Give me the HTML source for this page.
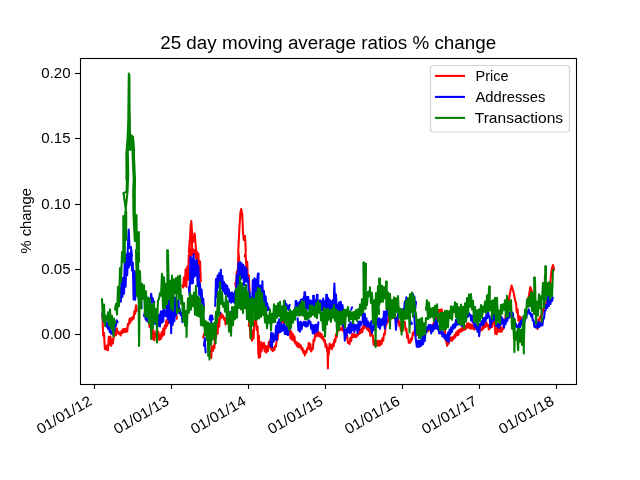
<!DOCTYPE html>
<html><head><meta charset="utf-8">
<style>
html,body{margin:0;padding:0;background:#fff;width:640px;height:480px;overflow:hidden}
svg{display:block;will-change:transform}
text{font-family:"Liberation Sans",sans-serif;fill:#000}
</style></head>
<body>
<svg width="640" height="480" viewBox="0 0 640 480">
<rect x="0" y="0" width="640" height="480" fill="#fff"/>
<!-- DATA -->
<g id="plot" fill="none" stroke-width="2.08" stroke-linejoin="round" stroke-linecap="round">
<path stroke="#ff0000" d="M102.4 314.7 103.2 335.7 104.0 333.0 104.8 348.9 105.6 346.3 106.4 349.8 107.2 345.3 108.0 350.2 108.8 336.9 109.6 344.8 110.4 336.6 111.2 345.8 112.0 339.3 112.8 343.5 113.6 337.4 114.4 335.7 115.2 330.3 116.0 335.3 116.8 328.4 117.6 333.3 118.4 331.6 119.2 334.2 120.0 332.9 120.8 335.4 121.6 330.6 122.4 333.0 123.2 329.0 124.0 332.1 124.8 329.1 125.6 332.0 126.4 328.3 127.2 331.6 128.0 323.7 128.8 324.6 129.6 318.8 130.4 322.5 131.2 317.8 132.0 320.0 132.8 317.0 133.6 318.7 134.4 311.0 135.2 314.0 136.0 305.3 136.8 310.6M144.8 314.8 145.6 313.0 146.4 319.8 147.2 316.8 148.0 321.6 148.8 319.9 149.6 327.2 150.4 321.8 151.2 333.4 152.0 326.8 152.8 338.9 153.6 330.6 154.4 340.3 155.2 333.1 156.0 336.1 156.8 330.4 157.6 337.6 158.4 331.9 159.2 339.9 160.0 335.0 160.8 339.1 161.6 332.1 162.4 336.5 163.2 328.6 164.0 334.6 164.8 325.5 165.6 328.6 166.4 320.1 167.2 325.9 168.0 321.6 168.8 322.8 169.6 317.1 170.4 320.8 171.2 315.0 172.0 319.4 172.8 311.1 173.6 316.1 174.4 310.3 175.2 312.6 176.0 309.9 176.8 318.6M182.4 285.5 183.2 287.5 184.0 277.3 184.8 285.6 185.6 269.2 186.4 286.6 187.2 266.7 188.0 279.8 188.8 254.6 189.6 261.5 190.4 249.4 191.2 256.7 192.0 250.0 192.8 255.2 193.6 249.5 194.4 254.0 195.2 250.3 196.0 258.4 196.8 251.3 197.6 266.2 198.4 253.5 199.2 277.2 200.0 261.4 200.8 281.5M201.6 301.3 202.4 298.6M203.2 337.6 204.0 334.1M210.4 351.1 211.2 358.0 212.0 346.2 212.8 351.0 213.6 345.5 214.4 348.2 215.2 333.0 216.0 337.7 216.8 324.9 217.6 333.7 218.4 319.4 219.2 326.7 220.0 314.3 220.8 318.6 221.6 313.8 222.4 317.2 223.2 315.6 224.0 319.5 224.8 318.0 225.6 324.5M235.2 283.0 236.0 287.2 236.8 271.5 237.6 277.2 238.4 251.9 239.2 260.1M244.8 256.5 245.6 253.1 246.4 267.9 247.2 261.8 248.0 281.7 248.8 275.4 249.6 293.4M248.8 325.9 249.6 318.6 250.4 337.5 251.2 335.3 252.0 340.6 252.8 330.2 253.6 338.6 254.4 320.5 255.2 324.6 256.0 320.9 256.8 330.2 257.6 326.6 258.4 354.7 259.2 341.8 260.0 357.1 260.8 342.0 261.6 351.4 262.4 343.3 263.2 348.1 264.0 342.7 264.8 351.5 265.6 345.9 266.4 352.6 267.2 346.5 268.0 350.9 268.8 341.9 269.6 347.0 270.4 339.5 271.2 349.6 272.0 348.4 272.8 351.2 273.6 347.9 274.4 350.0 275.2 345.7 276.0 346.3 276.8 338.8 277.6 339.6 278.4 330.6 279.2 331.6 280.0 322.6 280.8 324.3 281.6 318.7 282.4 322.7 283.2 317.4 284.0 322.1 284.8 317.7 285.6 322.8 286.4 318.5 287.2 324.6 288.0 320.5 288.8 327.9 289.6 327.2 290.4 338.5 291.2 331.2 292.0 339.5 292.8 333.9 293.6 340.9 294.4 336.3 295.2 343.4 296.0 341.6 296.8 345.9 297.6 342.8 298.4 347.2 299.2 343.9 300.0 347.5 300.8 345.4 301.6 349.5 302.4 348.0 303.2 352.6 304.0 350.7 304.8 355.4 305.6 351.4 306.4 352.6 307.2 348.2 308.0 348.6 308.8 342.9 309.6 349.4 310.4 344.1 311.2 351.5 312.0 349.1 312.8 349.3 313.6 339.9 314.4 341.0 315.2 334.2 316.0 336.4 316.8 333.0 317.6 335.6 318.4 331.6 319.2 336.4 320.0 333.0 320.8 337.2 321.6 334.2 322.4 339.0 323.2 336.8 324.0 341.4 324.8 340.3 325.6 347.0 326.4 344.4 327.2 351.3 328.0 347.9 328.8 354.3 329.6 343.6 330.4 348.5 331.2 345.1 332.0 349.2 332.8 343.7 333.6 346.5 334.4 339.7 335.2 342.1 336.0 334.3 336.8 337.1 337.6 329.3 338.4 330.9 339.2 327.7 340.0 329.7 340.8 328.5 341.6 329.9 342.4 326.5 343.2 331.2 344.0 327.8 344.8 333.5 345.6 331.9 346.4 338.3 347.2 335.6 348.0 342.9 348.8 341.6 349.6 344.1 350.4 337.7 351.2 341.1 352.0 334.2 352.8 337.1 353.6 333.5 354.4 337.0 355.2 334.7 356.0 337.2 356.8 334.2 357.6 335.7 358.4 331.8 359.2 334.1 360.0 330.0 360.8 332.9 361.6 328.3 362.4 332.0 363.2 325.8 364.0 328.5 364.8 324.3 365.6 327.5 366.4 324.2 367.2 329.6 368.0 326.3 368.8 331.1 369.6 328.8 370.4 335.9 371.2 330.4 372.0 335.4 372.8 335.6 373.6 344.7 374.4 341.1 375.2 345.5 376.0 341.5 376.8 345.6 377.6 340.7 378.4 345.6 379.2 340.9 380.0 345.5 380.8 340.8 381.6 344.1 382.4 338.2 383.2 340.8 384.0 333.7 384.8 334.5 385.6 326.5 386.4 324.6 387.2 320.1 388.0 321.9 388.8 317.3 389.6 319.7 390.4 315.3 391.2 317.8 392.0 314.8 392.8 318.1 393.6 314.3 394.4 318.2 395.2 315.7 396.0 319.0 396.8 317.8 397.6 322.0 398.4 319.2 399.2 325.8 400.0 322.3 400.8 330.4 401.6 327.9 402.4 331.5 403.2 323.5 404.0 324.7 404.8 321.7 405.6 330.4 406.4 328.7 407.2 337.9 408.0 335.1 408.8 342.8 409.6 341.0 410.4 342.6 411.2 338.3 412.0 339.7 412.8 332.9 413.6 334.8 414.4 331.0 415.2 332.9 416.0 329.4 416.8 335.3 417.6 329.9 418.4 335.4 419.2 330.1 420.0 334.3 420.8 329.0 421.6 333.8 422.4 329.1 423.2 333.4 424.0 329.9 424.8 332.8 425.6 329.8 426.4 331.5 427.2 329.5 428.0 331.0 428.8 328.9 429.6 330.5 430.4 328.4 431.2 330.0 432.0 325.3 432.8 328.0 433.6 322.8 434.4 324.7 435.2 318.4 436.0 320.1 436.8 314.0 437.6 313.8 438.4 309.9 439.2 311.9 440.0 309.8 440.8 312.2 441.6 309.3 442.4 313.4 443.2 315.4 444.0 327.8 444.8 326.3 445.6 340.3 446.4 341.5 447.2 345.8 448.0 339.1 448.8 343.8 449.6 337.2 450.4 340.6 451.2 337.5 452.0 341.0 452.8 337.1 453.6 339.0 454.4 335.0 455.2 337.4 456.0 332.9 456.8 335.5 457.6 330.7 458.4 334.9 459.2 329.7 460.0 331.9 460.8 328.8 461.6 331.2 462.4 327.8 463.2 330.3 464.0 327.8 464.8 329.7 465.6 326.0 466.4 328.5 467.2 323.3 468.0 327.2 468.8 323.4 469.6 328.3 470.4 324.3 471.2 328.8 472.0 324.6 472.8 328.5 473.6 325.5 474.4 329.6 475.2 325.7 476.0 328.9 476.8 327.5 477.6 330.2 478.4 328.0 479.2 330.6 480.0 328.4 480.8 330.7 481.6 328.1 482.4 329.6 483.2 325.5 484.0 328.2 484.8 323.5 485.6 326.9 486.4 322.2 487.2 325.8 488.0 324.8 488.8 329.5 489.6 325.5 490.4 328.1 491.2 325.0 492.0 327.0 492.8 320.9 493.6 323.4 494.4 317.5 495.2 333.6 496.0 325.9 496.8 334.2 497.6 327.0 498.4 331.5 499.2 327.5 500.0 331.7 500.8 327.2 501.6 331.7 502.4 328.4 503.2 329.2 504.0 321.2 504.8 324.1 505.6 315.1 506.4 317.5 507.2 309.7 508.0 310.0 508.8 303.0 509.6 302.7M516.0 302.4 516.8 312.2 517.6 309.3 518.4 320.6 519.2 316.3 520.0 322.5 520.8 317.0 521.6 322.8 522.4 319.4M537.6 328.9 538.4 319.3 539.2 324.0 540.0 316.9 540.8 317.5 541.6 313.3 542.4 314.2 543.2 308.6 544.0 310.6 544.8 305.8 545.6 306.4 546.4 301.4 547.2 302.1M188.8 252.0 190.0 238.0 190.8 224.0 191.8 230.0 192.2 252.0M238.2 252.0 239.5 226.0 240.5 212.0 241.2 209.0 242.2 214.0 243.0 232.0 243.8 240.0 245.0 236.0 245.8 252.0M189.5 252.0 190.3 232.0 191.3 221.0 192.3 236.0 193.0 242.0 194.7 233.5 196.2 252.0M508.5 302.0 510.0 293.0 511.6 285.5 513.5 292.0 515.5 302.0M527.5 302.0 529.0 295.0 530.4 287.0 532.0 292.0 533.0 302.0M549.5 292.0 551.0 275.0 552.0 268.0 553.0 265.0 554.0 270.0M327.5 348.5 327.9 368.4 328.3 348.5M258.4 336.0 258.8 357.8 259.1 336.0"/>
<path stroke="#0000ff" d="M102.4 313.0 103.2 320.7 104.0 318.8 104.8 323.1 105.6 320.5 106.4 326.5 107.2 322.4 108.0 328.8 108.8 325.1 109.6 331.9 110.4 328.9 111.2 333.7 112.0 331.9 112.8 334.8 113.6 328.7 114.4 331.0 115.2 324.5 116.0 325.7 116.8 320.4 117.6 322.1M120.0 288.2 120.8 301.8 121.6 278.1 122.4 296.9 123.2 277.8 124.0 293.8 124.8 258.3 125.6 286.7 126.4 254.6 127.2 275.2 128.0 254.7 128.8 267.5 129.6 253.3 130.4 265.0 131.2 249.5 132.0 270.5 132.8 262.8 133.6 299.6 134.4 271.1 135.2 299.7 136.0 272.4 136.8 292.7 137.6 282.8 138.4 298.0 139.2 285.8 140.0 306.1 140.8 288.8 141.6 308.1M144.0 316.0 144.8 312.6 145.6 319.5 146.4 315.6 147.2 321.1 148.0 317.7 148.8 322.3 149.6 316.7 150.4 323.2 151.2 317.9 152.0 323.0 152.8 317.4 153.6 323.3 154.4 316.7 155.2 323.6 156.0 316.6 156.8 324.8 157.6 316.6 158.4 325.6 159.2 314.9 160.0 326.5 160.8 311.6 161.6 322.6 162.4 310.7 163.2 321.8 164.0 309.5 164.8 315.7 165.6 310.8 166.4 316.6 167.2 297.2 168.0 319.5 168.8 295.8 169.6 322.7 170.4 294.9 171.2 333.2 172.0 292.9 172.8 324.7 173.6 296.6 174.4 321.3 175.2 297.9 176.0 315.5 176.8 300.4 177.6 309.6 178.4 300.5 179.2 313.3 180.0 309.3 180.8 315.1 181.6 313.1 182.4 322.2M150.4 300.5 151.2 293.7 152.0 302.6 152.8 298.3 153.6 304.1 154.4 301.7M188.8 287.3 189.6 295.2 190.4 257.1 191.2 283.5 192.0 258.5 192.8 283.2 193.6 254.2 194.4 276.7 195.2 261.1 196.0 275.3 196.8 260.1 197.6 285.9 198.4 265.7 199.2 294.7 200.0 283.5 200.8 300.3 201.6 289.5 202.4 304.2 203.2 298.6 204.0 308.9M202.9 316.2 203.5 316.2M204.0 345.7 204.8 338.3 205.6 352.4M209.6 319.7 210.4 315.5 211.2 322.5 212.0 315.5 212.8 319.1M215.2 306.0 216.0 279.1 216.8 296.6 217.6 275.5 218.4 287.5 219.2 273.2 220.0 282.8 220.8 269.8 221.6 288.6 222.4 276.0 223.2 290.9 224.0 282.0 224.8 293.7 225.6 284.4 226.4 294.1 227.2 285.8 228.0 296.5 228.8 289.3 229.6 301.6 230.4 292.9 231.2 302.6 232.0 292.6 232.8 301.5 233.6 293.6 234.4 302.8 235.2 290.7 236.0 298.3 236.8 274.8 237.6 287.2 238.4 263.0 239.2 283.1 240.0 262.1 240.8 279.1 241.6 263.3 242.4 277.7 243.2 264.9 244.0 285.5 244.8 266.9 245.6 281.8 246.4 268.6 247.2 281.7 248.0 277.5 248.8 295.2 249.6 292.5 250.4 303.6 251.2 297.6 252.0 310.7 252.8 280.2 253.6 309.2 254.4 278.2 255.2 301.3 256.0 279.5 256.8 302.5 257.6 275.9 258.4 302.1 259.2 285.0 260.0 309.1 260.8 285.7 261.6 303.4 262.4 281.2 263.2 309.4 264.0 291.0 264.8 309.1 265.6 296.2 266.4 309.4 267.2 303.3 268.0 310.1 268.8 307.8M219.7 312.9 220.3 312.9M230.1 312.0 230.7 312.0M270.4 345.8 271.2 332.7 272.0 347.1 272.8 333.3 273.6 341.6 274.4 335.3 275.2 339.8 276.0 326.0 276.8 339.7 277.6 322.2 278.4 332.6 279.2 319.2 280.0 332.3 280.8 322.8 281.6 331.1 282.4 325.3 283.2 330.1 284.0 323.8 284.8 333.9 285.6 325.7 286.4 334.1 287.2 328.1 288.0 335.2 288.8 329.4 289.6 329.1 290.4 325.9M284.8 300.7 285.6 308.9 286.4 304.0 287.2 308.8 288.0 306.1 288.8 310.1 289.6 304.9M295.2 308.9 296.0 301.2 296.8 310.0 297.6 303.2 298.4 309.1 299.2 302.4 300.0 308.0 300.8 299.7 301.6 305.9 302.4 299.0 303.2 308.7 304.0 296.4 304.8 308.7 305.6 296.0 306.4 310.4 307.2 298.1 308.0 308.4 308.8 300.4 309.6 310.4 310.4 300.4 311.2 310.3 312.0 301.1 312.8 310.2 313.6 300.6 314.4 306.4 315.2 300.2 316.0 308.5 316.8 296.0 317.6 310.5 318.4 300.7 319.2 310.6 320.0 300.4 320.8 310.1 321.6 301.4 322.4 310.5 323.2 298.5 324.0 309.4 324.8 301.4 325.6 310.0 326.4 295.8 327.2 309.1 328.0 297.8 328.8 309.9 329.6 299.8 330.4 310.7 331.2 301.3 332.0 309.8 332.8 300.4 333.6 307.6 334.4 283.6 335.2 310.7 336.0 294.6 336.8 313.0 337.6 304.9 338.4 313.4 339.2 302.2 340.0 315.2 340.8 301.8 341.6 315.1 342.4 305.1 343.2 310.2M297.6 318.4 298.4 330.4 299.2 322.4 300.0 331.6 300.8 321.7 301.6 329.3 302.4 323.0 303.2 325.1 304.0 321.7 304.8 325.8 305.6 321.7 306.4 326.8 307.2 322.8 308.0 325.8 308.8 320.2 309.6 322.2 310.4 321.8 311.2 329.0 312.0 324.8 312.8 333.5 313.6 325.5 314.4 333.1 315.2 324.8 316.0 332.0 316.8 324.8 317.6 330.6 318.4 322.2M342.4 305.1 343.2 326.2 344.0 324.8 344.8 340.7 345.6 330.0 346.4 336.4 347.2 328.2 348.0 332.2 348.8 324.8 349.6 333.1 350.4 322.0 351.2 332.4 352.0 323.8 352.8 329.9 353.6 323.8 354.4 332.0 355.2 325.1 356.0 329.3 356.8 325.1 357.6 333.0 358.4 321.9 359.2 329.8 360.0 321.6 360.8 325.4 361.6 322.0 362.4 322.5 363.2 312.1 364.0 324.6 364.8 313.7 365.6 325.0 366.4 318.2 367.2 326.6 368.0 321.5 368.8 326.5 369.6 323.4 370.4 328.6 371.2 321.3 372.0 332.9 372.8 326.3 373.6 330.1 374.4 323.0 375.2 324.8 376.0 321.6 376.8 323.9 377.6 319.3 378.4 327.1 379.2 318.4 380.0 328.8 380.8 319.5 381.6 325.5 382.4 318.7 383.2 324.4 384.0 311.5 384.8 328.4 385.6 311.6 386.4 322.9 387.2 309.5M351.2 309.7 352.0 307.2M394.4 314.6 395.2 317.3 396.0 329.8 396.8 318.8 397.6 319.6 398.4 311.1 399.2 314.7 400.0 310.3 400.8 313.7 401.6 309.6 402.4 312.9 403.2 309.4 404.0 312.3 404.8 301.6 405.6 307.9 406.4 297.4 407.2 314.6 408.0 303.3 408.8 318.4 409.6 300.6 410.4 309.2 411.2 299.8 412.0 310.4 412.8 293.9 413.6 316.0 414.4 296.6 415.2 309.2 416.0 302.1M408.8 318.4 409.6 315.8 410.4 324.4 411.2 322.2 412.0 323.7M413.6 316.0 414.4 316.1 415.2 333.5 416.0 340.5 416.8 346.6 417.6 340.7 418.4 347.0 419.2 341.0 420.0 346.5 420.8 340.2 421.6 345.5 422.4 335.9 423.2 344.0 424.0 335.2 424.8 341.0 425.6 330.1 426.4 332.6 427.2 327.1 428.0 328.7 428.8 325.0 429.6 329.1 430.4 324.7 431.2 333.4 432.0 326.0 432.8 331.1 433.6 324.9 434.4 329.1 435.2 318.8 436.0 328.1 436.8 321.1 437.6 329.2 438.4 326.3 439.2 333.5 440.0 330.6 440.8 333.4 441.6 330.8 442.4 336.3 443.2 332.4 444.0 337.7 444.8 334.9 445.6 339.0 446.4 335.1 447.2 341.0 448.0 332.6 448.8 341.6 449.6 329.6 450.4 334.1 451.2 327.4 452.0 332.0 452.8 325.0 453.6 328.6 454.4 324.1 455.2 327.5 456.0 319.7 456.8 325.2 457.6 318.6 458.4 324.2 459.2 318.4 460.0 323.6 460.8 317.6 461.6 326.0 462.4 319.1 463.2 326.0 464.0 317.9 464.8 322.1 465.6 314.9 466.4 318.0 467.2 314.1 468.0 316.4 468.8 312.9 469.6 315.1 470.4 314.9 471.2 320.6 472.0 315.7 472.8 322.3 473.6 318.2 474.4 326.4 475.2 322.8 476.0 328.4 476.8 325.3 477.6 331.8 478.4 325.7 479.2 336.2 480.0 323.7 480.8 325.8 481.6 321.4 482.4 325.3 483.2 318.1 484.0 324.0 484.8 317.7 485.6 321.2 486.4 314.5 487.2 318.3 488.0 311.9 488.8 316.9 489.6 316.2 490.4 327.2 491.2 320.3 492.0 322.4 492.8 316.3 493.6 320.5 494.4 309.9 495.2 317.4 496.0 309.9M496.0 325.8 496.8 323.8 497.6 326.6 498.4 323.7 499.2 328.0 500.0 322.4 500.8 324.8 501.6 317.0 502.4 322.9 503.2 319.2 504.0 327.6 504.8 320.3 505.6 324.2 506.4 317.8 507.2 321.1 508.0 314.7 508.8 318.1 509.6 313.0 510.4 316.6 511.2 311.1 512.0 314.8 512.8 313.1 513.6 322.4 514.4 318.9 515.2 325.2 516.0 323.8 516.8 327.3 517.6 325.8 518.4 330.7 519.2 323.4 520.0 327.3 520.8 320.9 521.6 324.4 522.4 319.4 523.2 322.3 524.0 316.3 524.8 320.9 525.6 316.4 526.4 318.0 527.2 311.3 528.0 312.5 528.8 309.4 529.6 314.0 530.4 313.0 531.2 316.6 532.0 314.2 532.8 320.5 533.6 320.3 534.4 327.0 535.2 325.8 536.0 327.7 536.8 323.3 537.6 327.4 538.4 321.9 539.2 327.0 540.0 322.2 540.8 325.7 541.6 323.3 542.4 325.3 543.2 319.3 544.0 318.4 544.8 310.9 545.6 310.4 546.4 304.6 547.2 308.0 548.0 292.9 548.8 306.0 549.6 299.6 550.4 304.0 551.2 298.6 552.0 301.0 552.8 297.4M127.5 256.0 128.7 229.5 129.5 248.0 131.0 247.0 132.0 256.0M304.4 292.2 304.8 307.8 305.1 292.2M313.1 295.8 313.5 307.8 313.9 295.8M316.9 294.8 317.2 307.8 317.6 294.8M326.2 294.8 326.6 307.8 327.0 294.8M307.5 297.0 307.9 307.8 308.3 297.0M295.6 301.0 296.0 307.8 296.4 301.0M257.9 273.5 258.2 286.5 258.6 273.5"/>
<path stroke="#008000" d="M102.0 299.0 103.0 320.6 104.0 304.6 105.0 325.7 106.0 316.1 107.0 319.9 108.0 312.4 109.0 325.5 110.0 309.3 111.0 328.1 112.0 315.9 113.0 331.4 114.0 318.5 115.0 323.3M115.0 309.5 116.0 303.9 117.0 314.4 118.0 286.7 119.0 306.3 120.0 268.0 121.0 281.9 122.0 252.1M136.0 250.0 137.0 295.9 138.0 252.3 139.0 325.5 140.0 271.1 141.0 308.5 142.0 283.7 143.0 298.7 144.0 285.4 145.0 315.9 146.0 291.3 147.0 317.3 148.0 297.6 149.0 323.1 150.0 298.8 151.0 327.8 152.0 304.6 153.0 328.3 154.0 302.8 155.0 322.0 156.0 309.1 157.0 324.8 158.0 300.8 159.0 298.7 160.0 293.1 161.0 295.8 162.0 273.9 163.0 308.3 164.0 277.2 165.0 308.2 166.0 283.9 167.0 303.9 168.0 253.9 169.0 299.5 170.0 280.7 171.0 308.8 172.0 275.6 173.0 310.6 174.0 279.4 175.0 293.3 176.0 278.0 177.0 292.6 178.0 276.4 179.0 299.0 180.0 275.5 181.0 303.6 182.0 295.7 183.0 321.1 184.0 303.1 185.0 325.7 186.0 313.5 187.0 325.4 188.0 298.3 189.0 312.8 190.0 292.7 191.0 309.8 192.0 295.5 193.0 305.9 194.0 292.5 195.0 314.8 196.0 286.1 197.0 315.7 198.0 296.5 199.0 316.4 200.0 298.4 201.0 325.1 202.0 304.7 203.0 325.8 204.0 306.9M176.0 278.0 177.0 313.1 178.0 309.5 179.0 311.2 180.0 309.7M203.0 325.8 204.0 318.4 205.0 335.7 206.0 321.2 207.0 340.1 208.0 322.6 209.0 339.2 210.0 327.1 211.0 344.5 212.0 323.5 213.0 339.4 214.0 323.3 215.0 331.2 216.0 311.8 217.0 322.5 218.0 292.0 219.0 315.6 220.0 282.3 221.0 303.8 222.0 292.0 223.0 306.6 224.0 302.9 225.0 311.7 226.0 295.9 227.0 323.5 228.0 301.0 229.0 331.6 230.0 312.7 231.0 335.7 232.0 307.1 233.0 325.1 234.0 307.0 235.0 319.2 236.0 289.1 237.0 317.6 238.0 285.7 239.0 308.0 240.0 276.2 241.0 309.4 242.0 283.3 243.0 312.9 244.0 287.7 245.0 308.1 246.0 284.8 247.0 319.2 248.0 292.1 249.0 321.2 250.0 299.2 251.0 325.1 252.0 297.8 253.0 308.3 254.0 299.0 255.0 319.7 256.0 292.8 257.0 319.8 258.0 288.1 259.0 318.4 260.0 288.8 261.0 316.9 262.0 293.0 263.0 314.9 264.0 302.6 265.0 322.4 266.0 307.2 267.0 328.3 268.0 315.6 269.0 322.7 270.0 309.5 271.0 330.5 272.0 313.8 273.0 322.1 274.0 304.2 275.0 322.2 276.0 306.1 277.0 317.7 278.0 303.2 279.0 316.0 280.0 301.7 281.0 321.3 282.0 306.2 283.0 320.3 284.0 300.7 285.0 322.7 286.0 306.8 287.0 325.9 288.0 312.5 289.0 330.0 290.0 309.8 291.0 327.6 292.0 311.4 293.0 322.6 294.0 309.8 295.0 319.6 296.0 307.3 297.0 315.2 298.0 307.4 299.0 315.7 300.0 304.4 301.0 315.0 302.0 300.7 303.0 315.8 304.0 301.8 305.0 319.1 306.0 309.3 307.0 319.7 308.0 312.4 309.0 317.8 310.0 305.6 311.0 316.5 312.0 305.6 313.0 314.8 314.0 307.0 315.0 316.7 316.0 303.6 317.0 318.1 318.0 301.1 319.0 312.6 320.0 303.4 321.0 320.5 322.0 312.6 323.0 330.1 324.0 308.0 325.0 336.5 326.0 309.1 327.0 324.5 328.0 308.7 329.0 319.6 330.0 310.2 331.0 321.8 332.0 309.1 333.0 317.6 334.0 305.1 335.0 320.6 336.0 309.3 337.0 331.7 338.0 311.6 339.0 329.8 340.0 311.7 341.0 324.4 342.0 311.6 343.0 323.2 344.0 309.6 345.0 327.8 346.0 309.8 347.0 315.7 348.0 307.0 349.0 321.2 350.0 311.4 351.0 319.0 352.0 312.4 353.0 323.4 354.0 311.8 355.0 319.1 356.0 310.1 357.0 320.9 358.0 309.4 359.0 318.1 360.0 304.6 361.0 315.5 362.0 299.1 363.0 312.8 364.0 294.0 365.0 305.3 366.0 295.6 367.0 305.0 368.0 291.7 369.0 296.3 370.0 287.4 371.0 302.9 372.0 293.0 373.0 323.2 374.0 300.4 375.0 318.8 376.0 293.0 377.0 317.5 378.0 286.2 379.0 305.1 380.0 281.4 381.0 302.0 382.0 285.7 383.0 301.6 384.0 287.0 385.0 298.3 386.0 289.9 387.0 308.0 388.0 292.3 389.0 316.3 390.0 293.7 391.0 318.6 392.0 300.0 393.0 318.0 394.0 297.4 395.0 317.4 396.0 298.3 397.0 311.6 398.0 296.0 399.0 317.6 400.0 308.5 401.0 320.2 402.0 309.4 403.0 329.7 404.0 310.6 405.0 318.7 406.0 300.8 407.0 318.7 408.0 298.4 409.0 315.6 410.0 294.0 411.0 312.2 412.0 292.6 413.0 317.0 414.0 296.6 415.0 310.5 416.0 313.5 417.0 334.2 418.0 319.8 419.0 338.5 420.0 319.0 421.0 337.9 422.0 317.7 423.0 334.9 424.0 323.4 425.0 334.1 426.0 318.0M251.0 325.1 252.0 320.3M252.0 297.8 253.0 325.6M378.0 286.2 379.0 314.0M426.0 309.7 427.0 300.3 428.0 319.2 429.0 302.6 430.0 317.6 431.0 308.6 432.0 316.6 433.0 307.9 434.0 321.0 435.0 305.7 436.0 316.2 437.0 304.3 438.0 321.2 439.0 313.9 440.0 330.1 441.0 312.7 442.0 329.4 443.0 312.7 444.0 330.2 445.0 310.7 446.0 329.0 447.0 310.9 448.0 327.3 449.0 311.3 450.0 318.1 451.0 306.2 452.0 319.8 453.0 306.8 454.0 312.1 455.0 302.3 456.0 317.1 457.0 303.7 458.0 322.8 459.0 307.3 460.0 324.6 461.0 304.6 462.0 324.8 463.0 306.8 464.0 328.3 465.0 303.3 466.0 321.3 467.0 298.1 468.0 314.1 469.0 294.6 470.0 306.8 471.0 294.1 472.0 309.5 473.0 300.8 474.0 321.8 475.0 306.7 476.0 322.3 477.0 310.4 478.0 325.3 479.0 309.3 480.0 321.0 481.0 305.1 482.0 317.7 483.0 306.6 484.0 312.0 485.0 301.5 486.0 313.0 487.0 295.3 488.0 311.3 489.0 288.1 490.0 310.4 491.0 301.1 492.0 318.7 493.0 300.4 494.0 313.4 495.0 297.9 496.0 324.3 497.0 297.7 498.0 321.6 499.0 310.5 500.0 323.1 501.0 304.7 502.0 313.7 503.0 304.2 504.0 309.8 505.0 300.3 506.0 317.2 507.0 295.7 508.0 316.5 509.0 301.2 510.0 310.4 511.0 300.0 512.0 328.7 513.0 318.0 514.0 339.2 515.0 332.8 516.0 339.4 517.0 331.3 518.0 349.4 519.0 328.7 520.0 341.8 521.0 329.9 522.0 345.0 523.0 321.3 524.0 337.4 525.0 309.5 526.0 318.2 527.0 299.3 528.0 306.9 529.0 297.2 530.0 306.2 531.0 292.4 532.0 311.0 533.0 293.0 534.0 313.9 535.0 280.6 536.0 323.5 537.0 301.6 538.0 315.4 539.0 294.2 540.0 308.1 541.0 296.4 542.0 299.2 543.0 283.1 544.0 307.8 545.0 275.0 546.0 300.0 547.0 283.1 548.0 295.2 549.0 282.3 550.0 299.1 551.0 284.3 552.0 296.5 553.0 269.9M541.0 296.4 542.0 321.8M127.6 134.0 128.0 150.0 129.5 136.0 130.2 150.0 131.2 137.0 132.0 149.0 132.6 139.0M126.4 152.0 126.5 180.0M133.6 152.0 133.8 180.0M129.3 100.0 129.8 134.0M124.8 262.0 124.8 240.0 125.0 216.0 127.5 192.0 128.2 175.0 127.8 152.0 129.0 138.0 129.6 120.0 129.4 75.0M131.0 135.0 133.0 137.0 134.0 149.0 134.0 157.0 135.0 180.0 134.8 190.0 134.8 215.0 136.2 241.0M123.3 262.0 123.3 250.0 123.3 216.0 124.8 232.0 126.2 240.0 126.2 212.0 123.5 193.0 126.5 192.0 127.0 180.0 126.5 152.0 127.6 138.0 128.3 120.0 128.8 73.5 129.8 120.0 130.0 135.0 131.5 137.0 132.5 149.0 132.7 157.0 133.7 180.0 133.2 190.0 133.5 215.0 134.8 241.0 136.5 215.0 136.8 250.0 138.8 232.0 139.0 262.0M167.1 250.4 167.5 286.5 167.9 250.4M138.7 311.0 139.1 345.9 139.5 311.0M113.1 323.5 113.5 336.5 113.9 323.5M150.8 311.0 151.2 339.0 151.7 311.0M156.6 311.0 157.0 342.5 157.4 311.0M186.2 311.0 186.6 337.1 187.0 311.0M207.8 323.5 208.2 355.9 208.7 323.5M209.1 323.5 209.5 359.6 209.9 323.5M215.2 323.5 215.6 343.4 216.0 323.5M250.3 317.2 250.8 338.4 251.2 317.2M363.4 262.5 363.8 309.0 364.1 262.5M365.2 263.8 365.6 309.0 366.0 263.8M379.1 278.5 379.5 304.0 379.9 278.5M386.0 281.6 386.4 309.0 386.8 281.6M375.2 311.0 375.6 347.1 376.0 311.0M389.6 311.0 390.0 328.4 390.4 311.0M401.2 311.0 401.6 334.6 402.0 311.0M409.1 311.0 409.5 332.8 409.9 311.0M336.6 311.0 337.0 335.2 337.4 311.0M489.1 286.6 489.5 309.0 489.9 286.6M534.1 277.5 534.5 299.0 534.9 277.5M545.2 266.2 545.6 299.0 546.0 266.2M514.0 319.8 514.4 352.1 514.8 319.8M523.4 316.0 523.8 353.4 524.1 316.0M517.9 328.5 518.2 350.2 518.6 328.5"/>
</g>
<!-- axes frame -->
<rect x="80.5" y="58.5" width="496" height="326" fill="none" stroke="#000" stroke-width="1.1"/>
<!-- y ticks -->
<g stroke="#000" stroke-width="1.11">
<line x1="75" y1="73.5" x2="80.5" y2="73.5"/>
<line x1="75" y1="138.5" x2="80.5" y2="138.5"/>
<line x1="75" y1="204.5" x2="80.5" y2="204.5"/>
<line x1="75" y1="269.5" x2="80.5" y2="269.5"/>
<line x1="75" y1="334.5" x2="80.5" y2="334.5"/>
</g>
<g font-size="14.6" text-anchor="end">
<text x="70.6" y="78" textLength="29.3" lengthAdjust="spacingAndGlyphs">0.20</text>
<text x="70.6" y="143.3" textLength="29.3" lengthAdjust="spacingAndGlyphs">0.15</text>
<text x="70.6" y="208.6" textLength="29.3" lengthAdjust="spacingAndGlyphs">0.10</text>
<text x="70.6" y="273.9" textLength="29.3" lengthAdjust="spacingAndGlyphs">0.05</text>
<text x="70.6" y="339.2" textLength="29.3" lengthAdjust="spacingAndGlyphs">0.00</text>
</g>
<!-- x ticks -->
<g stroke="#000" stroke-width="1.11">
<line x1="94.5" y1="384.5" x2="94.5" y2="389"/>
<line x1="171.5" y1="384.5" x2="171.5" y2="389"/>
<line x1="248.5" y1="384.5" x2="248.5" y2="389"/>
<line x1="325.5" y1="384.5" x2="325.5" y2="389"/>
<line x1="402.5" y1="384.5" x2="402.5" y2="389"/>
<line x1="479.5" y1="384.5" x2="479.5" y2="389"/>
<line x1="556.5" y1="384.5" x2="556.5" y2="389"/>
</g>
<g font-size="14.6" text-anchor="end">
<text transform="translate(93.0,404) rotate(-30)" textLength="61" lengthAdjust="spacingAndGlyphs">01/01/12</text>
<text transform="translate(170.0,404) rotate(-30)" textLength="61" lengthAdjust="spacingAndGlyphs">01/01/13</text>
<text transform="translate(247.0,404) rotate(-30)" textLength="61" lengthAdjust="spacingAndGlyphs">01/01/14</text>
<text transform="translate(324.0,404) rotate(-30)" textLength="61" lengthAdjust="spacingAndGlyphs">01/01/15</text>
<text transform="translate(401.0,404) rotate(-30)" textLength="61" lengthAdjust="spacingAndGlyphs">01/01/16</text>
<text transform="translate(478.0,404) rotate(-30)" textLength="61" lengthAdjust="spacingAndGlyphs">01/01/17</text>
<text transform="translate(555.0,404) rotate(-30)" textLength="61" lengthAdjust="spacingAndGlyphs">01/01/18</text>
</g>
<!-- title -->
<text x="328.2" y="48.8" font-size="17.6" text-anchor="middle" textLength="336" lengthAdjust="spacingAndGlyphs">25 day moving average ratios % change</text>
<!-- ylabel -->
<text transform="translate(31.2,220.8) rotate(-90)" font-size="14.5" text-anchor="middle" textLength="65.5" lengthAdjust="spacingAndGlyphs">% change</text>
<!-- legend -->
<rect x="430.5" y="65.5" width="139" height="66.5" rx="2.8" fill="#fff" fill-opacity="0.8" stroke="#d4d4d4" stroke-width="1.2"/>
<g stroke-width="2.08">
<line x1="434.9" y1="75.9" x2="465" y2="75.9" stroke="#f00"/>
<line x1="434.9" y1="96.9" x2="465" y2="96.9" stroke="#00f"/>
<line x1="434.9" y1="117.9" x2="465" y2="117.9" stroke="#008000"/>
</g>
<g font-size="14.6">
<text x="475.5" y="80.8" textLength="33" lengthAdjust="spacingAndGlyphs">Price</text>
<text x="475.5" y="101.8" textLength="69.8" lengthAdjust="spacingAndGlyphs">Addresses</text>
<text x="474.8" y="122.6" textLength="88.3" lengthAdjust="spacingAndGlyphs">Transactions</text>
</g>
</svg>
</body></html>
